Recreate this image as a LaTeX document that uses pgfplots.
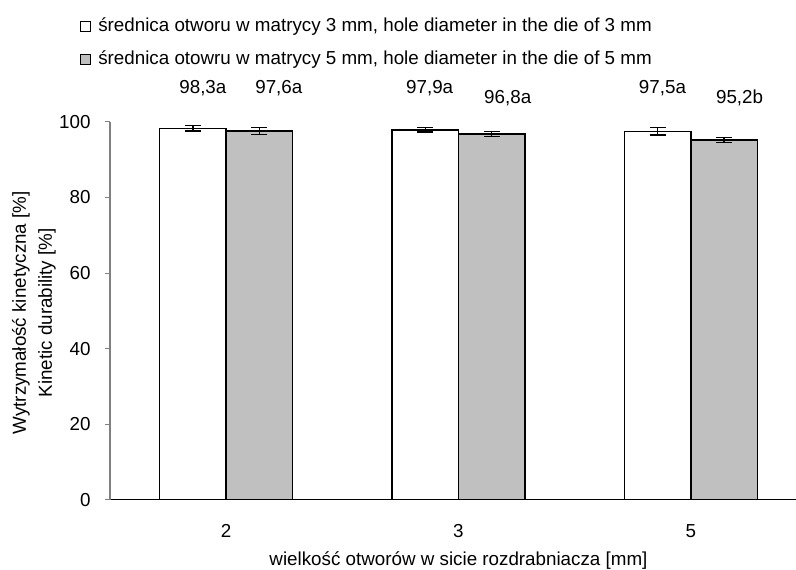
\documentclass[border=0pt]{standalone}
\usepackage{pgfplots}
\pgfplotsset{compat=1.18}
\usepackage{fontspec}
\setmainfont{Liberation Sans}
\definecolor{barGray}{HTML}{C0C0C0}
\definecolor{axGray}{HTML}{808080}
\begin{document}
\fontsize{9.4}{13}\selectfont
\begin{tikzpicture}
\begin{axis}[
  name=ax,
  scale only axis,
  width=348.75pt, height=189pt,
  xmin=-0.5, xmax=2.5,
  ymin=0, ymax=100,
  ybar=0pt, bar width=33.25pt,
  axis x line*=bottom, axis y line*=left,
  x axis line style={black, line width=0.6pt, -},
  y axis line style={axGray, line width=0.6pt, -},
  xtick={0,1,2}, xticklabels={2,3,5},
  major x tick style={draw=none},
  extra x ticks={0.5,1.5},
  extra x tick labels={},
  extra x tick style={major tick length=5pt, tick align=outside, major tick style={black, line width=0.5pt, draw=black}},
  ytick={0,20,...,100},
  tick align=outside,
  major y tick style={axGray, line width=0.5pt},
  major tick length=2.5pt,
  /pgf/number format/assume math mode=true,
  tick label style={font=\fontsize{9.4}{11}\selectfont},
  xticklabel style={anchor=base, yshift=-16.5pt},
  yticklabel style={anchor=east, inner sep=0pt, xshift=-7pt},
  xlabel={wielkość otworów w sicie rozdrabniacza [mm]},
  xlabel style={at={(axis description cs:0.5,0)}, anchor=center, yshift=-30.5pt},
  ylabel={Wytrzymałość kinetyczna [\%]\\Kinetic durability [\%]},
  ylabel style={at={(axis description cs:0,0.5)}, anchor=center, yshift=38pt, xshift=-1pt, align=center},
  clip=false,
  legend cell align=left,
  legend style={draw=none, fill=none, at={(axis description cs:0,1)}, anchor=north west,
    xshift=-15pt, yshift=52pt, inner sep=0pt, row sep=8pt, column sep=3.5pt,
    nodes={inner sep=0pt, text height=6.5pt, text depth=2pt}},
  legend image code/.code={\draw[#1, line width=0.5pt, draw=black] (0pt,-2.5pt) rectangle (5pt,2.5pt);},
  error bars/y dir=both, error bars/y explicit,
  error bars/error bar style={black, line width=0.7pt},
  error bars/error mark options={rotate=90, mark size=4pt, black, line width=0.7pt},
]
\addplot[fill=white, draw=black, line width=0.7pt] coordinates {
  (0,98.3) +- (0,0.7)
  (1,97.9) +- (0,0.55)
  (2,97.5) +- (0,1.0)
};
\addlegendentry{średnica otworu w matrycy 3 mm, hole diameter in the die of 3 mm}
\addplot[fill=barGray, draw=black, line width=0.7pt] coordinates {
  (0,97.6) +- (0,1.0)
  (1,96.8) +- (0,0.7)
  (2,95.2) +- (0,0.6)
};
\addlegendentry{średnica otowru w matrycy 5 mm, hole diameter in the die of 5 mm}
\node at (axis cs:-0.1,109.0) {98,3a};
\node at (axis cs:0.227,109.0) {97,6a};
\node at (axis cs:0.876,109.0) {97,9a};
\node at (axis cs:1.212,106.3) {96,8a};
\node at (axis cs:1.878,109.0) {97,5a};
\node at (axis cs:2.21,106.3) {95,2b};
\end{axis}
\pgfresetboundingbox
\useasboundingbox ([shift={(-55pt,-35pt)}]ax.south west) rectangle ([shift={(-5.5pt,61pt)}]ax.north east);
\end{tikzpicture}
\end{document}
